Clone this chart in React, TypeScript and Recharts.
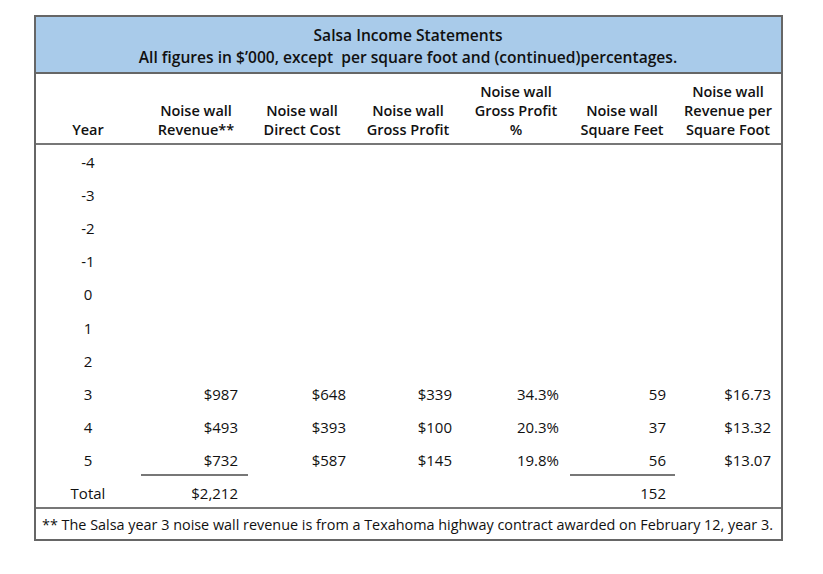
import React from 'react';
import { ComposedChart, Bar, XAxis, YAxis, Customized } from 'recharts';

const years = ['-4', '-3', '-2', '-1', '0', '1', '2', '3', '4', '5', 'Total'];
const revenue = [null, null, null, null, null, null, null, 987, 493, 732, 2212];
const directCost = [null, null, null, null, null, null, null, 648, 393, 587, null];
const grossProfit = [null, null, null, null, null, null, null, 339, 100, 145, null];
const grossProfitPct = [null, null, null, null, null, null, null, 34.3, 20.3, 19.8, null];
const squareFeet = [null, null, null, null, null, null, null, 59, 37, 56, 152];
const revPerSqFt = [null, null, null, null, null, null, null, 16.73, 13.32, 13.07, null];

const headers = [
  ['Year'],
  ['Noise wall', 'Revenue**'],
  ['Noise wall', 'Direct Cost'],
  ['Noise wall', 'Gross Profit'],
  ['Noise wall', 'Gross Profit', '%'],
  ['Noise wall', 'Square Feet'],
  ['Noise wall', 'Revenue per', 'Square Foot'],
];

const rows = years.map((year, i) => ({
  year,
  revenue: revenue[i],
  directCost: directCost[i],
  grossProfit: grossProfit[i],
  grossProfitPct: grossProfitPct[i],
  squareFeet: squareFeet[i],
  revPerSqFt: revPerSqFt[i],
}));

const money = (v: number | null) => (v == null ? '' : '$' + v.toLocaleString('en-US'));
const moneyCents = (v: number | null) => (v == null ? '' : '$' + v.toFixed(2));
const pct = (v: number | null) => (v == null ? '' : v.toFixed(1) + '%');
const plain = (v: number | null) => (v == null ? '' : String(v));

const BODY_FONT = '"Open Sans", sans-serif';
const HEAD_FONT = '"Open Sans", sans-serif';
const TEXT = '#111';

// right edges of value columns, centers of header columns
const valueRight = [238, 346, 452, 559, 666, 771];
const headCenter = [88, 196, 302, 408, 516, 622, 728];

function RowTick(props: any) {
  const { y, payload } = props;
  const row = rows.find((r) => r.year === payload.value);
  if (!row) return null;
  const cells = [
    money(row.revenue),
    money(row.directCost),
    money(row.grossProfit),
    pct(row.grossProfitPct),
    plain(row.squareFeet),
    moneyCents(row.revPerSqFt),
  ];
  const isTotal = row.year === 'Total';
  return (
    <g fontFamily={BODY_FONT} fontSize={15} fill={TEXT}>
      <text x={headCenter[0]} y={y} textAnchor="middle" dominantBaseline="central" fill={TEXT}>
        {row.year}
      </text>
      {cells.map((c, i) => (
        <text key={i} x={valueRight[i]} y={y} textAnchor="end" dominantBaseline="central" fill={TEXT}>
          {c}
        </text>
      ))}
      {isTotal && (
        <>
          <line x1={141} x2={248} y1={y - 18} y2={y - 18} stroke="#777" strokeWidth={2} />
          <line x1={570} x2={675} y1={y - 18} y2={y - 18} stroke="#777" strokeWidth={2} />
        </>
      )}
    </g>
  );
}

function Frame() {
  return (
    <g>
      <rect x={35} y={16} width={747} height={57} fill="#a9cbea" />
      <text x={408} y={35} textAnchor="middle" dominantBaseline="central" fontFamily={HEAD_FONT} fontWeight={600} fontSize={15.6} fill={TEXT}>
        Salsa Income Statements
      </text>
      <text x={408} y={57} textAnchor="middle" dominantBaseline="central" fontFamily={HEAD_FONT} fontWeight={600} fontSize={15.6} fill={TEXT} style={{ whiteSpace: 'pre' }}>
        All figures in $’000, except  per square foot and (continued)percentages.
      </text>
      {headers.map((lines, i) =>
        lines.map((t, j) => (
          <text
            key={i + '-' + j}
            x={headCenter[i]}
            y={129 - (lines.length - 1 - j) * 19}
            textAnchor="middle"
            dominantBaseline="central"
            fontFamily={HEAD_FONT}
            fontWeight={600}
            fontSize={14.5}
            fill={TEXT}
          >
            {t}
          </text>
        ))
      )}
      <text x={42} y={524} dominantBaseline="central" fontFamily={BODY_FONT} fontSize={14.4} fill={TEXT}>
        ** The Salsa year 3 noise wall revenue is from a Texahoma highway contract awarded on February 12, year 3.
      </text>
      <line x1={35} x2={782} y1={73} y2={73} stroke="#666" strokeWidth={2} />
      <line x1={35} x2={782} y1={144} y2={144} stroke="#777" strokeWidth={2} />
      <line x1={35} x2={782} y1={508} y2={508} stroke="#777" strokeWidth={2} />
      <rect x={35} y={16} width={747} height={524} fill="none" stroke="#666" strokeWidth={2} />
    </g>
  );
}

export default function App() {
  return (
    <div style={{ position: 'absolute', left: 0, top: 0, width: 823, height: 574, background: '#fff' }}>
      <ComposedChart
        width={823}
        height={574}
        data={rows}
        layout="vertical"
        margin={{ top: 145.5, right: 40, bottom: 64.5, left: 0 }}
      >
        <XAxis type="number" hide domain={[0, 3000]} />
        <YAxis
          type="category"
          dataKey="year"
          width={60}
          axisLine={false}
          tickLine={false}
          interval={0}
          tick={<RowTick />}
        />
        <Bar dataKey="revenue" fill="none" isAnimationActive={false} />
        <Customized component={<Frame />} />
      </ComposedChart>
    </div>
  );
}
